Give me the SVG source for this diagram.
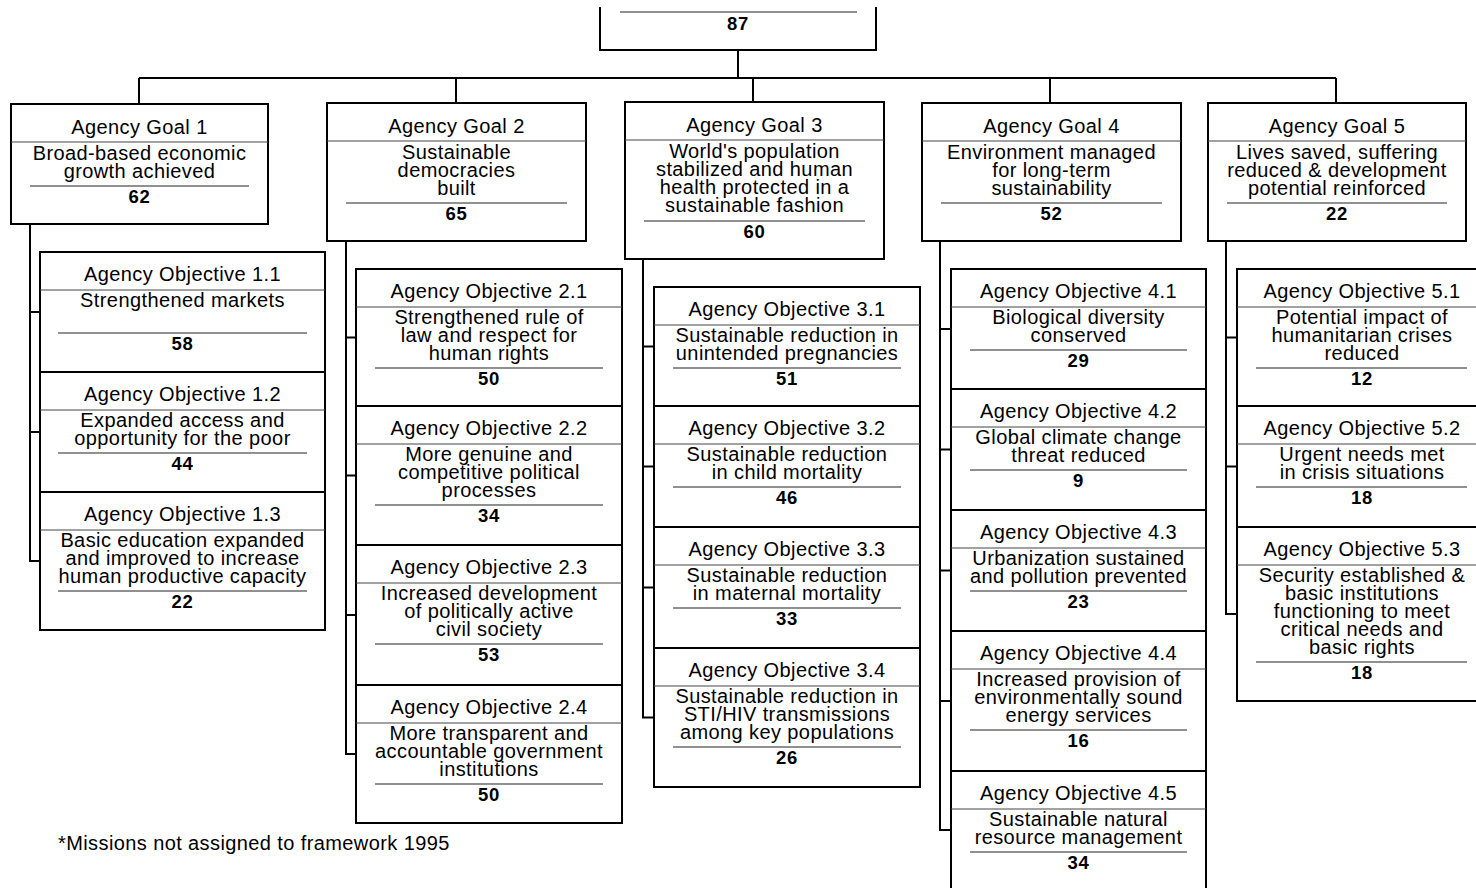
<svg xmlns="http://www.w3.org/2000/svg" width="1476" height="888" viewBox="0 0 1476 888">
<style>
.box{fill:#fff;stroke:#000;stroke-width:2}
.hl{stroke:#444;stroke-width:1}
.sep{stroke:#222;stroke-width:1.2}
.conn{fill:none;stroke:#000;stroke-width:2}
text{font-family:"Liberation Sans",Arial,sans-serif;font-size:20px;letter-spacing:0.4px;text-anchor:middle;fill:#000}
text.n{font-weight:bold;font-size:18.5px;letter-spacing:0.6px}
text.fn{text-anchor:start}
</style>
<rect width="1476" height="888" fill="#fff"/>
<g id="connectors">
<path class="conn" d="M738,50V78M139,78H1336M139,78V104M456,78V103M753,78V102M1050,78V103M1336,78V103"/>
<path class="conn" d="M30,224V561H40M30,312H40M30,432H40"/>
<path class="conn" d="M346,241V754H356M346,337.5H356M346,475.5H356M346,615H356"/>
<path class="conn" d="M643,259V717.5H654M643,346.5H654M643,466.5H654M643,587.5H654"/>
<path class="conn" d="M940,241V830H951M940,329H951M940,449.5H951M940,570.5H951M940,701H951"/>
<path class="conn" d="M1226,241V614H1237M1226,337.5H1237M1226,466.5H1237"/>
</g>
<g id="top">
<path class="box" d="M600,7V50H876V7"/>
<line class="sep" x1="620" y1="12" x2="857" y2="12"/>
<text class="n" x="738" y="30">87</text>
</g>
<g id="goal1">
<rect class="box" x="11" y="104" width="257" height="120"/>
<line class="hl" x1="11" y1="142" x2="268" y2="142"/>
<text x="139.5" y="134">Agency Goal 1</text>
<text x="139.5" y="160">Broad-based economic</text>
<text x="139.5" y="178">growth achieved</text>
<line class="sep" x1="30" y1="186" x2="249" y2="186"/>
<text class="n" x="139.5" y="203">62</text>
</g>
<g id="goal2">
<rect class="box" x="327" y="103" width="259" height="138"/>
<line class="hl" x1="327" y1="141" x2="586" y2="141"/>
<text x="456.5" y="133">Agency Goal 2</text>
<text x="456.5" y="159">Sustainable</text>
<text x="456.5" y="177">democracies</text>
<text x="456.5" y="195">built</text>
<line class="sep" x1="346" y1="203" x2="567" y2="203"/>
<text class="n" x="456.5" y="220">65</text>
</g>
<g id="goal3">
<rect class="box" x="625" y="102" width="259" height="157"/>
<line class="hl" x1="625" y1="140" x2="884" y2="140"/>
<text x="754.5" y="132">Agency Goal 3</text>
<text x="754.5" y="158">World's population</text>
<text x="754.5" y="176">stabilized and human</text>
<text x="754.5" y="194">health protected in a</text>
<text x="754.5" y="212">sustainable fashion</text>
<line class="sep" x1="644" y1="221" x2="865" y2="221"/>
<text class="n" x="754.5" y="238">60</text>
</g>
<g id="goal4">
<rect class="box" x="922" y="103" width="259" height="138"/>
<line class="hl" x1="922" y1="141" x2="1181" y2="141"/>
<text x="1051.5" y="133">Agency Goal 4</text>
<text x="1051.5" y="159">Environment managed</text>
<text x="1051.5" y="177">for long-term</text>
<text x="1051.5" y="195">sustainability</text>
<line class="sep" x1="941" y1="203" x2="1162" y2="203"/>
<text class="n" x="1051.5" y="220">52</text>
</g>
<g id="goal5">
<rect class="box" x="1208" y="103" width="258" height="138"/>
<line class="hl" x1="1208" y1="141" x2="1466" y2="141"/>
<text x="1337" y="133">Agency Goal 5</text>
<text x="1337" y="159">Lives saved, suffering</text>
<text x="1337" y="177">reduced &amp; development</text>
<text x="1337" y="195">potential reinforced</text>
<line class="sep" x1="1227" y1="203" x2="1447" y2="203"/>
<text class="n" x="1337" y="220">22</text>
</g>
<g id="obj1_1">
<rect class="box" x="40" y="252" width="285" height="120"/>
<line class="hl" x1="40" y1="290" x2="325" y2="290"/>
<text x="182.5" y="281">Agency Objective 1.1</text>
<text x="182.5" y="307">Strengthened markets</text>
<line class="sep" x1="58" y1="333" x2="307" y2="333"/>
<text class="n" x="182.5" y="350">58</text>
</g>
<g id="obj1_2">
<rect class="box" x="40" y="372" width="285" height="120"/>
<line class="hl" x1="40" y1="410" x2="325" y2="410"/>
<text x="182.5" y="401">Agency Objective 1.2</text>
<text x="182.5" y="427">Expanded access and</text>
<text x="182.5" y="445">opportunity for the poor</text>
<line class="sep" x1="58" y1="453" x2="307" y2="453"/>
<text class="n" x="182.5" y="470">44</text>
</g>
<g id="obj1_3">
<rect class="box" x="40" y="492" width="285" height="138"/>
<line class="hl" x1="40" y1="530" x2="325" y2="530"/>
<text x="182.5" y="521">Agency Objective 1.3</text>
<text x="182.5" y="547">Basic education expanded</text>
<text x="182.5" y="565">and improved to increase</text>
<text x="182.5" y="583">human productive capacity</text>
<line class="sep" x1="58" y1="591" x2="307" y2="591"/>
<text class="n" x="182.5" y="608">22</text>
</g>
<g id="obj2_1">
<rect class="box" x="356" y="269" width="266" height="137"/>
<line class="hl" x1="356" y1="307" x2="622" y2="307"/>
<text x="489" y="298">Agency Objective 2.1</text>
<text x="489" y="324">Strengthened rule of</text>
<text x="489" y="342">law and respect for</text>
<text x="489" y="360">human rights</text>
<line class="sep" x1="375" y1="368" x2="603" y2="368"/>
<text class="n" x="489" y="385">50</text>
</g>
<g id="obj2_2">
<rect class="box" x="356" y="406" width="266" height="139"/>
<line class="hl" x1="356" y1="444" x2="622" y2="444"/>
<text x="489" y="435">Agency Objective 2.2</text>
<text x="489" y="461">More genuine and</text>
<text x="489" y="479">competitive political</text>
<text x="489" y="497">processes</text>
<line class="sep" x1="375" y1="505" x2="603" y2="505"/>
<text class="n" x="489" y="522">34</text>
</g>
<g id="obj2_3">
<rect class="box" x="356" y="545" width="266" height="140"/>
<line class="hl" x1="356" y1="583" x2="622" y2="583"/>
<text x="489" y="574">Agency Objective 2.3</text>
<text x="489" y="600">Increased development</text>
<text x="489" y="618">of politically active</text>
<text x="489" y="636">civil society</text>
<line class="sep" x1="375" y1="644" x2="603" y2="644"/>
<text class="n" x="489" y="661">53</text>
</g>
<g id="obj2_4">
<rect class="box" x="356" y="685" width="266" height="138"/>
<line class="hl" x1="356" y1="723" x2="622" y2="723"/>
<text x="489" y="714">Agency Objective 2.4</text>
<text x="489" y="740">More transparent and</text>
<text x="489" y="758">accountable government</text>
<text x="489" y="776">institutions</text>
<line class="sep" x1="375" y1="784" x2="603" y2="784"/>
<text class="n" x="489" y="801">50</text>
</g>
<g id="obj3_1">
<rect class="box" x="654" y="287" width="266" height="119"/>
<line class="hl" x1="654" y1="325" x2="920" y2="325"/>
<text x="787" y="316">Agency Objective 3.1</text>
<text x="787" y="342">Sustainable reduction in</text>
<text x="787" y="360">unintended pregnancies</text>
<line class="sep" x1="673" y1="368" x2="901" y2="368"/>
<text class="n" x="787" y="385">51</text>
</g>
<g id="obj3_2">
<rect class="box" x="654" y="406" width="266" height="121"/>
<line class="hl" x1="654" y1="444" x2="920" y2="444"/>
<text x="787" y="435">Agency Objective 3.2</text>
<text x="787" y="461">Sustainable reduction</text>
<text x="787" y="479">in child mortality</text>
<line class="sep" x1="673" y1="487" x2="901" y2="487"/>
<text class="n" x="787" y="504">46</text>
</g>
<g id="obj3_3">
<rect class="box" x="654" y="527" width="266" height="121"/>
<line class="hl" x1="654" y1="565" x2="920" y2="565"/>
<text x="787" y="556">Agency Objective 3.3</text>
<text x="787" y="582">Sustainable reduction</text>
<text x="787" y="600">in maternal mortality</text>
<line class="sep" x1="673" y1="608" x2="901" y2="608"/>
<text class="n" x="787" y="625">33</text>
</g>
<g id="obj3_4">
<rect class="box" x="654" y="648" width="266" height="139"/>
<line class="hl" x1="654" y1="686" x2="920" y2="686"/>
<text x="787" y="677">Agency Objective 3.4</text>
<text x="787" y="703">Sustainable reduction in</text>
<text x="787" y="721">STI/HIV transmissions</text>
<text x="787" y="739">among key populations</text>
<line class="sep" x1="673" y1="747" x2="901" y2="747"/>
<text class="n" x="787" y="764">26</text>
</g>
<g id="obj4_1">
<rect class="box" x="951" y="269" width="255" height="120"/>
<line class="hl" x1="951" y1="307" x2="1206" y2="307"/>
<text x="1078.5" y="298">Agency Objective 4.1</text>
<text x="1078.5" y="324">Biological diversity</text>
<text x="1078.5" y="342">conserved</text>
<line class="sep" x1="970" y1="350" x2="1187" y2="350"/>
<text class="n" x="1078.5" y="367">29</text>
</g>
<g id="obj4_2">
<rect class="box" x="951" y="389" width="255" height="121"/>
<line class="hl" x1="951" y1="427" x2="1206" y2="427"/>
<text x="1078.5" y="418">Agency Objective 4.2</text>
<text x="1078.5" y="444">Global climate change</text>
<text x="1078.5" y="462">threat reduced</text>
<line class="sep" x1="970" y1="470" x2="1187" y2="470"/>
<text class="n" x="1078.5" y="487">9</text>
</g>
<g id="obj4_3">
<rect class="box" x="951" y="510" width="255" height="121"/>
<line class="hl" x1="951" y1="548" x2="1206" y2="548"/>
<text x="1078.5" y="539">Agency Objective 4.3</text>
<text x="1078.5" y="565">Urbanization sustained</text>
<text x="1078.5" y="583">and pollution prevented</text>
<line class="sep" x1="970" y1="591" x2="1187" y2="591"/>
<text class="n" x="1078.5" y="608">23</text>
</g>
<g id="obj4_4">
<rect class="box" x="951" y="631" width="255" height="140"/>
<line class="hl" x1="951" y1="669" x2="1206" y2="669"/>
<text x="1078.5" y="660">Agency Objective 4.4</text>
<text x="1078.5" y="686">Increased provision of</text>
<text x="1078.5" y="704">environmentally sound</text>
<text x="1078.5" y="722">energy services</text>
<line class="sep" x1="970" y1="730" x2="1187" y2="730"/>
<text class="n" x="1078.5" y="747">16</text>
</g>
<g id="obj4_5">
<rect class="box" x="951" y="771" width="255" height="130"/>
<line class="hl" x1="951" y1="809" x2="1206" y2="809"/>
<text x="1078.5" y="800">Agency Objective 4.5</text>
<text x="1078.5" y="826">Sustainable natural</text>
<text x="1078.5" y="844">resource management</text>
<line class="sep" x1="970" y1="852" x2="1187" y2="852"/>
<text class="n" x="1078.5" y="869">34</text>
</g>
<g id="obj5_1">
<rect class="box" x="1237" y="269" width="250" height="137"/>
<line class="hl" x1="1237" y1="307" x2="1487" y2="307"/>
<text x="1362" y="298">Agency Objective 5.1</text>
<text x="1362" y="324">Potential impact of</text>
<text x="1362" y="342">humanitarian crises</text>
<text x="1362" y="360">reduced</text>
<line class="sep" x1="1256" y1="368" x2="1467" y2="368"/>
<text class="n" x="1362" y="385">12</text>
</g>
<g id="obj5_2">
<rect class="box" x="1237" y="406" width="250" height="121"/>
<line class="hl" x1="1237" y1="444" x2="1487" y2="444"/>
<text x="1362" y="435">Agency Objective 5.2</text>
<text x="1362" y="461">Urgent needs met</text>
<text x="1362" y="479">in crisis situations</text>
<line class="sep" x1="1256" y1="487" x2="1467" y2="487"/>
<text class="n" x="1362" y="504">18</text>
</g>
<g id="obj5_3">
<rect class="box" x="1237" y="527" width="250" height="174"/>
<line class="hl" x1="1237" y1="565" x2="1487" y2="565"/>
<text x="1362" y="556">Agency Objective 5.3</text>
<text x="1362" y="582">Security established &amp;</text>
<text x="1362" y="600">basic institutions</text>
<text x="1362" y="618">functioning to meet</text>
<text x="1362" y="636">critical needs and</text>
<text x="1362" y="654">basic rights</text>
<line class="sep" x1="1256" y1="662" x2="1467" y2="662"/>
<text class="n" x="1362" y="679">18</text>
</g>
<text class="fn" x="58" y="850">*Missions not assigned to framework 1995</text>
</svg>
